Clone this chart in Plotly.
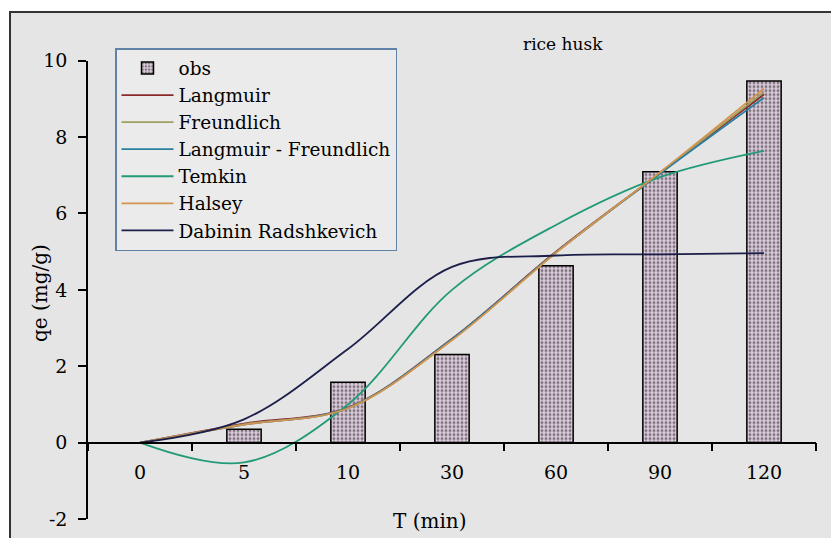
import plotly.graph_objects as go

categories = ["0", "5", "10", "30", "60", "90", "120"]
obs = [None, 0.35, 1.58, 2.31, 4.63, 7.09, 9.47]
langmuir = [0, 0.50, 0.92, 2.72, 5.00, 7.06, 9.12]
freundlich = [0, 0.48, 0.90, 2.70, 4.98, 7.06, 9.18]
langmuir_freundlich = [0, 0.47, 0.91, 2.71, 4.98, 7.04, 9.03]
temkin = [0, -0.52, 1.00, 4.00, 5.70, 6.95, 7.64]
halsey = [0, 0.47, 0.90, 2.68, 4.97, 7.08, 9.27]
dubinin = [0, 0.61, 2.45, 4.60, 4.90, 4.93, 4.96]
y_ticks = [-2, 0, 2, 4, 6, 8, 10]
y_tick_text = ["-2", "0", "2", "4", "6", "8", "10"]

FONT = "DejaVu Serif, Liberation Serif, serif"

# pixel helpers for paper placement (plot area: x 88..816, paper y bottom at 519, height 489)
W_PLOT = 728.0
H_PAPER = 489.0
Y0 = 519.0


def px(xp):
    return (xp - 88.0) / W_PLOT


def py(yp):
    return (Y0 - yp) / H_PAPER


ydom_top = py(60.7)

fig = go.Figure()
fig.add_trace(go.Bar(
    x=categories, y=obs, name="obs",
    marker=dict(color="#dccbdc", line=dict(color="black", width=1.5),
                pattern=dict(shape=".", fgcolor="#1a1a1a", bgcolor="#dccbdc",
                             size=4, solidity=0.4)),
))

lines = [
    ("Langmuir", langmuir, "#8a2a2a"),
    ("Freundlich", freundlich, "#a0a060"),
    ("Langmuir - Freundlich", langmuir_freundlich, "#2a7f9f"),
    ("Temkin", temkin, "#229a78"),
    ("Halsey", halsey, "#d4944e"),
    ("Dabinin Radshkevich", dubinin, "#1c1f4a"),
]
for name, vals, col in lines:
    fig.add_trace(go.Scatter(
        x=categories, y=vals, name=name, mode="lines",
        line=dict(color=col, width=1.8, shape="spline", smoothing=1.0),
    ))

fig.update_layout(
    width=831, height=538,
    margin=dict(l=88, r=15, t=30, b=19),
    paper_bgcolor="white",
    plot_bgcolor="rgba(0,0,0,0)",
    font=dict(family=FONT, size=18, color="black"),
    bargap=0.67,
    showlegend=True,
    legend=dict(
        x=px(115), y=py(48), xanchor="left", yanchor="top",
        bgcolor="#ebebeb", bordercolor="#5f82a6", borderwidth=1.5,
        font=dict(family=FONT, size=18.5, color="black"),
        tracegroupgap=0, itemwidth=52,
    ),
    xaxis=dict(
        type="category", range=[-0.5, 6.5],
        anchor="free", position=ydom_top / 6.0, automargin=False,
        showline=True, linecolor="black", linewidth=1.5,
        ticks="outside", ticklen=8, tickcolor="black", tickwidth=1.5,
        tickson="boundaries", showgrid=False, zeroline=False,
        tickfont=dict(family=FONT, size=19),
        ticklabelstandoff=13,
    ),
    yaxis=dict(
        domain=[0, ydom_top], automargin=False,
        range=[-2, 10], tickvals=y_ticks, ticktext=y_tick_text,
        showline=True, linecolor="black", linewidth=1.5,
        ticks="outside", ticklen=8, tickcolor="black", tickwidth=1.5,
        showgrid=False, zeroline=False,
        tickfont=dict(family=FONT, size=19),
        ticklabelstandoff=7,
    ),
    shapes=[
        dict(type="rect", xref="paper", yref="paper",
             x0=px(10), x1=px(845), y0=py(560), y1=py(12),
             fillcolor="#e5e5e5", line=dict(color="#333333", width=2),
             layer="below"),
    ],
    annotations=[
        dict(text="rice husk", xref="paper", yref="paper", x=px(521), y=py(44),
             xanchor="left", yanchor="middle", showarrow=False,
             font=dict(family=FONT, size=17)),
        dict(text="qe (mg/g)", xref="paper", yref="paper", x=px(40), y=py(293),
             xanchor="center", yanchor="middle", textangle=-90, showarrow=False,
             font=dict(family=FONT, size=20)),
        dict(text="T (min)", xref="paper", yref="paper", x=px(430), y=py(521),
             xanchor="center", yanchor="middle", showarrow=False,
             font=dict(family=FONT, size=20)),
    ],
)

fig.write_html(
    "out.html",
    config={"displayModeBar": False},
    post_script="document.body.style.margin='0';document.body.style.padding='0';"
                "document.documentElement.style.overflow='hidden';",
)
